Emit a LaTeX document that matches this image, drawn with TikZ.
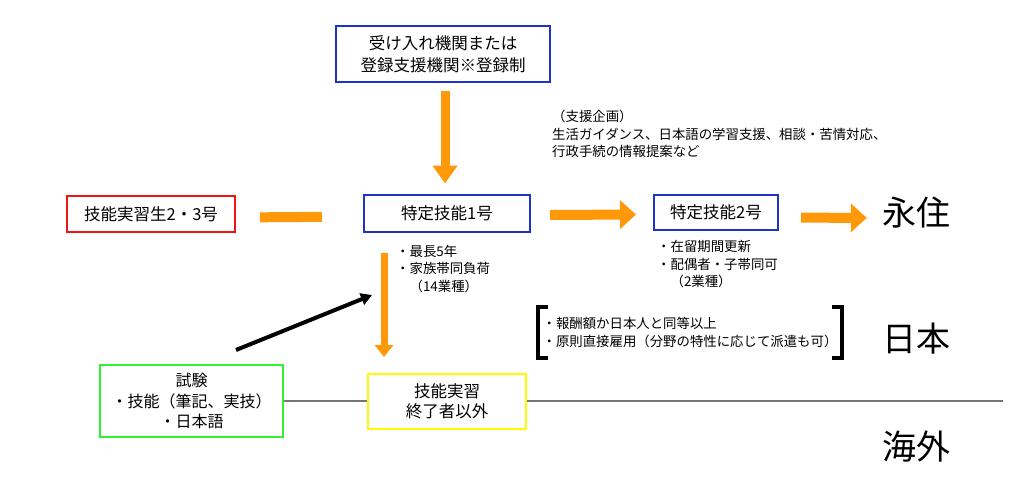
\documentclass[tikz,border=0pt]{standalone}
\usepackage{fontspec}
\setmainfont{Noto Sans CJK JP}
\usepackage{tikz}
\usetikzlibrary{arrows.meta}
\usetikzlibrary{shapes}
\definecolor{waku}{RGB}{30,50,200}
\definecolor{akawaku}{RGB}{240,20,20}
\definecolor{midori}{RGB}{50,240,50}
\definecolor{kiiro}{RGB}{255,250,0}
\definecolor{daidai}{RGB}{255,153,10}
\definecolor{haiiro}{RGB}{118,118,118}
\tikzset{
  boxtext/.style={font=\fontsize{16.5}{22}\selectfont,inner sep=0pt},
  bluebox/.style={boxtext,draw=waku,line width=2pt},
  redbox/.style={boxtext,draw=akawaku,line width=2pt},
  greenbox/.style={boxtext,draw=midori,line width=2pt,font=\fontsize{16}{20.5}\selectfont},
  yellowbox/.style={boxtext,draw=kiiro,line width=2pt,font=\fontsize{16.5}{20}\selectfont},
  note/.style={font=\fontsize{13.4}{17.5}\selectfont,inner sep=0pt,align=left,anchor=west},
  bigtext/.style={font=\fontsize{34}{40}\selectfont,inner sep=0pt},
  fatarrow/.style={draw=daidai,line width=10pt,-{Triangle[length=16pt,width=28pt]}},
}

\begin{document}
\begin{tikzpicture}[x=1pt,y=-1pt]
      \useasboundingbox (0,0) rectangle (1020,485);

      \node[bluebox,minimum width=214pt,minimum height=56pt,align=center] (uketsuke) at (443,54) {受け入れ機関または\\登録支援機関※登録制};
      \node[redbox,minimum width=168pt,minimum height=36pt] (jisshusei) at (151,214) {技能実習生2・3号};
      \node[bluebox,minimum width=166pt,minimum height=37pt] (toku1) at (447,213) {特定技能1号};
      \node[bluebox,minimum width=124pt,minimum height=35pt] (toku2) at (716,212.5) {特定技能2号};
      \node[bigtext] (eiju) at (916,213) {永住};
      \node[bigtext] (nihon) at (916,339) {日本};
      \node[bigtext] (kaigai) at (916,447) {海外};

      \node[note] (shien) at (552,134) {（支援企画）\\生活ガイダンス、日本語の学習支援、相談・苦情対応、\\行政手続の情報提案など};
      \node[note] (toku1note) at (396,268.5) {・最長5年\\・家族帯同負荷\\　（14業種）};
      \node[note] (toku2note) at (657,264.5) {・在留期間更新\\・配偶者・子帯同可\\　（2業種）};
      \node[note,anchor=center,minimum width=304pt,minimum height=51pt] (joken) at (690,332.5) {・報酬額か日本人と同等以上\\・原則直接雇用（分野の特性に応じて派遣も可）};
      \draw[line width=3.5pt,line join=miter] ([xshift=10pt]joken.north west) -- (joken.north west) -- (joken.south west) -- ([xshift=10pt]joken.south west);
      \draw[line width=3.5pt,line join=miter] ([xshift=-10pt]joken.north east) -- (joken.north east) -- (joken.south east) -- ([xshift=-10pt]joken.south east);

      \node[greenbox,minimum width=183pt,minimum height=72pt,align=center] (shiken) at (191.5,401) {試験\\・技能（筆記、実技）\\・日本語};
      \coordinate (sakai) at (1003,401);
      \draw[haiiro,line width=2pt] (shiken.east) -- (sakai);
      \node[yellowbox,fill=white,minimum width=158pt,minimum height=55pt,align=center] (shuryo) at (447,401.5) {技能実習\\終了者以外};

      \draw[draw=daidai,line width=9pt,-{Triangle[length=18pt,width=24pt]},shorten <=8pt,shorten >=10pt] ([xshift=2pt]uketsuke.south) -- ([xshift=-2pt]toku1.north);
      \draw[draw=daidai,line width=10pt,shorten <=24pt,shorten >=41pt] ([yshift=-3.5pt]jisshusei.east) -- ([yshift=-3.5pt]toku1.west);
      \draw[fatarrow,shorten <=19pt,shorten >=17pt] ([yshift=-2pt]toku1.east) -- ([yshift=-2pt]toku2.west);
      \draw[fatarrow,shorten <=22pt,shorten >=15pt] ([yshift=-5pt]toku2.east) -- ([yshift=-5pt]eiju.west);
      \draw[draw=daidai,line width=7pt,-{Triangle[length=12pt,width=18pt]},shorten <=20.5pt,shorten >=16pt] ([xshift=-63pt]toku1.south) -- ([xshift=-63pt]shuryo.north);

      \coordinate (ya-moto) at (236,350);
      \coordinate (ya-saki) at (372,295);
      \draw[line width=4pt,-{Triangle[length=11pt,width=12pt]}] (ya-moto) -- (ya-saki);
\end{tikzpicture}
\end{document}
